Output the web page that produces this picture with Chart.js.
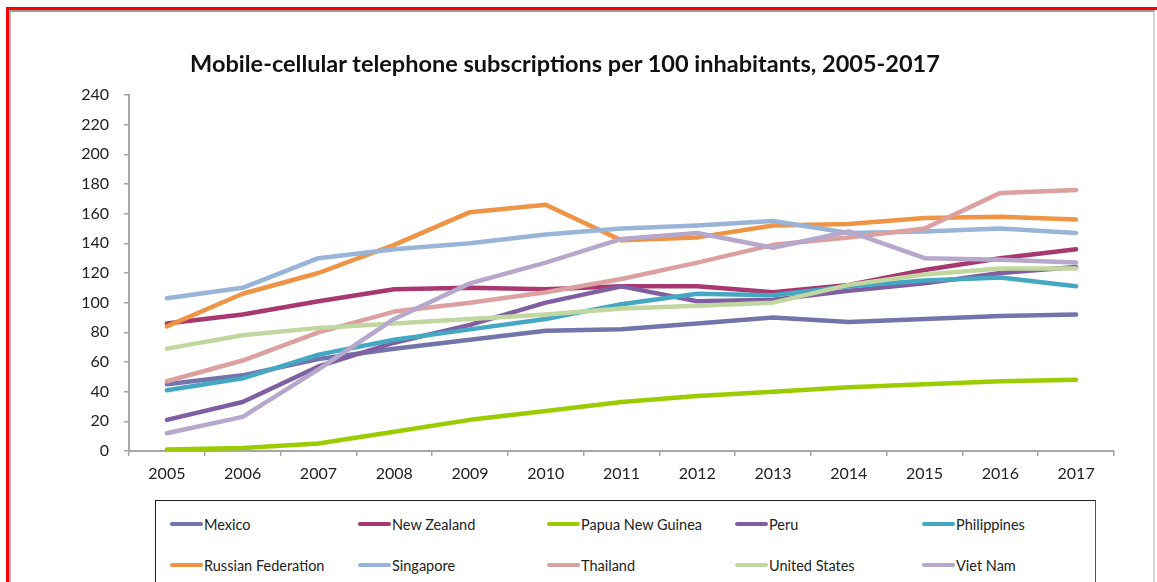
<!DOCTYPE html>
<html lang="en">
<head>
    <meta charset="UTF-8">
    <title>Mobile-cellular telephone subscriptions</title>
    <script src="https://cdn.jsdelivr.net/npm/chart.js"></script>
    <style>
        html, body {
            margin: 0;
            padding: 0;
            background: #fff;
            overflow: hidden;
        }

        #page {
            position: relative;
            width: 1157px;
            height: 582px;
            overflow: hidden;
            font-family: Lato, "Open Sans", sans-serif;
        }

        /* frame of the screenshot */
        #frame {
            position: absolute;
            left: 6px;
            top: 7px;
            width: 1160px;
            height: 600px;
            border-top: 3px solid #ff0000;
            border-left: 3px solid #ff0000;
            box-sizing: border-box;
        }

        #frame-inner {
            position: absolute;
            left: 9px;
            top: 10px;
            width: 1146px;
            height: 600px;
            border-top: 2px solid #9a9a9a;
            border-left: 2px solid #b8b8b8;
            border-right: 2px solid #d8d8d8;
            box-sizing: border-box;
        }

        #chart-title {
            position: absolute;
            left: 0;
            width: 1130px;
            top: 48px;
            text-align: center;
            font-size: 23.5px;
            font-weight: bold;
            color: #111;
            margin: 0;
            line-height: 30px;
        }

        #chart-container {
            position: absolute;
            left: 0;
            top: 0;
            width: 1157px;
            height: 490px;
        }

        #legend {
            position: absolute;
            left: 155px;
            top: 500px;
            width: 941px;
            height: 120px;
            border: 1.5px solid #222;
            border-right-color: #555;
            box-sizing: border-box;
        }

        .legend-item {
            position: absolute;
            display: flex;
            align-items: center;
            font-size: 14.5px;
            color: #222;
            height: 20px;
        }

        .legend-swatch {
            width: 33px;
            height: 4px;
            border-radius: 2px;
            margin-right: 1px;
        }
    </style>
</head>
<body>
    <div id="page">
        <div id="frame"></div>
        <div id="frame-inner"></div>
        <div id="chart-container">
            <canvas id="mobileChart"></canvas>
        </div>
        <h1 id="chart-title">Mobile-cellular telephone subscriptions per 100 inhabitants, 2005-2017</h1>
        <div id="legend"></div>
    </div>

    <script>
        // years on the x axis
        const years = ['2005', '2006', '2007', '2008', '2009', '2010', '2011', '2012', '2013', '2014', '2015', '2016', '2017'];

        // subscriptions per 100 inhabitants
        const mexico       = [45, 51, 62, 69, 75, 81, 82, 86, 90, 87, 89, 91, 92];
        const newZealand   = [86, 92, 101, 109, 110, 109, 111, 111, 107, 112, 122, 130, 136];
        const papuaNG      = [1, 2, 5, 13, 21, 27, 33, 37, 40, 43, 45, 47, 48];
        const peru         = [21, 33, 57, 73, 85, 100, 111, 101, 102, 108, 113, 120, 124];
        const philippines  = [41, 49, 65, 75, 82, 89, 99, 106, 105, 111, 115, 117, 111];
        const russia       = [84, 106, 120, 139, 161, 166, 142, 144, 152, 153, 157, 158, 156];
        const singapore    = [103, 110, 130, 136, 140, 146, 150, 152, 155, 147, 148, 150, 147];
        const thailand     = [47, 61, 80, 94, 100, 107, 116, 127, 139, 144, 150, 174, 176];
        const unitedStates = [69, 78, 83, 86, 89, 92, 96, 98, 100, 112, 119, 123, 123];
        const vietNam      = [12, 23, 55, 89, 113, 127, 143, 147, 137, 148, 130, 129, 127];

        const seriesNames = ['Mexico', 'New Zealand', 'Papua New Guinea', 'Peru', 'Philippines',
                             'Russian Federation', 'Singapore', 'Thailand', 'United States', 'Viet Nam'];
        const seriesData = [mexico, newZealand, papuaNG, peru, philippines,
                            russia, singapore, thailand, unitedStates, vietNam];
        const seriesColors = ['#7474ac', '#a8386f', '#9bcc00', '#7f5fa2', '#45a8c2',
                              '#ee9444', '#98b4d8', '#dba09f', '#c2d7a0', '#b6a7cc'];

        const yTicks = [0, 20, 40, 60, 80, 100, 120, 140, 160, 180, 200, 220, 240];

        const axisColor = '#a6a6a6';
        const tickFont = { family: 'Lato, "Open Sans", sans-serif', size: 16 };

        // later series drawn on top, as in the Excel original
        const datasets = seriesNames.map((name, i) => ({
            label: name,
            data: seriesData[i],
            borderColor: seriesColors[i],
            backgroundColor: seriesColors[i],
            borderWidth: 4.5,
            pointRadius: 0,
            tension: 0,
            fill: false,
            borderCapStyle: 'round',
            borderJoinStyle: 'round',
            order: seriesNames.length - i
        }));

        const ctx = document.getElementById('mobileChart').getContext('2d');
        new Chart(ctx, {
            type: 'line',
            data: { labels: years, datasets: datasets },
            options: {
                responsive: true,
                maintainAspectRatio: false,
                animation: false,
                layout: {
                    padding: { top: 95, right: 43, bottom: 10, left: 0 }
                },
                plugins: {
                    legend: { display: false },
                    title: { display: false },
                    tooltip: { enabled: false }
                },
                scales: {
                    x: {
                        offset: true,
                        grid: {
                            display: true,
                            offset: true,
                            drawOnChartArea: false,
                            drawTicks: true,
                            tickLength: 5,
                            color: axisColor,
                            lineWidth: 1.5
                        },
                        border: { color: axisColor, width: 2 },
                        ticks: {
                            color: '#222',
                            font: tickFont,
                            padding: 8,
                            maxRotation: 0
                        },
                        afterFit: function (scale) { scale.height = 29; }
                    },
                    y: {
                        min: 0,
                        max: 240,
                        afterBuildTicks: function (scale) {
                            scale.ticks = yTicks.map(v => ({ value: v }));
                        },
                        grid: {
                            display: true,
                            drawOnChartArea: false,
                            drawTicks: true,
                            tickLength: 5,
                            color: axisColor,
                            lineWidth: 1.5
                        },
                        border: { color: axisColor, width: 2 },
                        ticks: {
                            color: '#222',
                            font: tickFont,
                            padding: 15
                        },
                        afterFit: function (scale) { scale.width = 129; }
                    }
                }
            }
        });

        // HTML legend: 5 columns, 2 rows, like the Excel legend box
        const legendBox = document.getElementById('legend');
        const colLeft = [14, 202, 391, 579, 766];
        const rowTop = [13, 54];
        seriesNames.forEach((name, i) => {
            const item = document.createElement('div');
            item.className = 'legend-item';
            item.style.left = colLeft[i % 5] + 'px';
            item.style.top = rowTop[Math.floor(i / 5)] + 'px';
            const swatch = document.createElement('span');
            swatch.className = 'legend-swatch';
            swatch.style.background = seriesColors[i];
            const text = document.createElement('span');
            text.textContent = name;
            item.appendChild(swatch);
            item.appendChild(text);
            legendBox.appendChild(item);
        });
    </script>
</body>
</html>
